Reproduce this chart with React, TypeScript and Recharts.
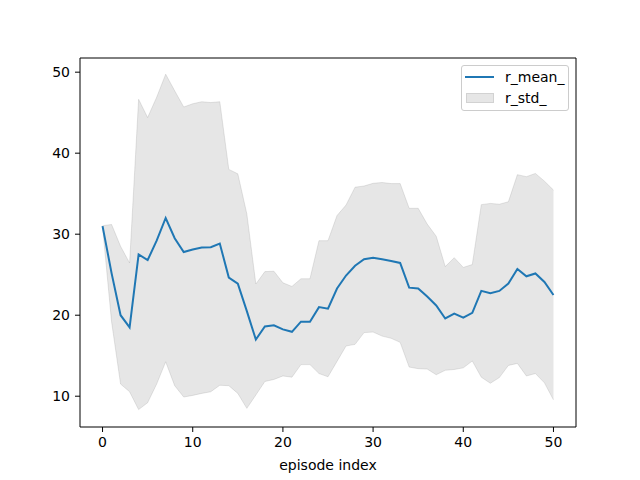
import React from "react";
import { ComposedChart, Line, Area, XAxis, YAxis, Legend, ReferenceArea, Label } from "recharts";

const episodes = [
    0, 1, 2, 3, 4, 5, 6, 7, 8, 9, 10, 11, 12, 13, 14, 15, 16, 17, 18, 19, 20, 21, 22, 23, 24, 25,
    26, 27, 28, 29, 30, 31, 32, 33, 34, 35, 36, 37, 38, 39, 40, 41, 42, 43, 44, 45, 46, 47, 48, 49, 50,
];
const rMean = [
    31.0, 25.2, 20.0, 18.5, 27.5, 26.8, 29.2, 32.0, 29.5, 27.8, 28.1, 28.35, 28.4, 28.85, 24.65, 23.9, 20.5,
    17.0, 18.6, 18.75, 18.25, 17.95, 19.2, 19.2, 21.0, 20.8, 23.3, 24.9, 26.1, 26.9, 27.1, 26.9, 26.7, 26.45,
    23.4, 23.3, 22.3, 21.2, 19.6, 20.2, 19.7, 20.3, 23.0, 22.7, 23.0, 23.9, 25.7, 24.8, 25.15, 24.1, 22.5,
];
const rStd = [
    0.05, 6.0, 8.5, 7.95, 19.15, 17.6, 17.7, 17.75, 18.2, 17.9, 18.0, 18.0, 17.85, 17.5, 13.35, 13.55, 12.0,
    6.85, 6.78, 6.68, 5.75, 5.6, 5.3, 5.3, 8.2, 8.4, 9.0, 8.7, 9.7, 9.05, 9.18, 9.48, 9.55, 9.8,
    9.8, 9.9, 8.95, 8.55, 6.4, 6.9, 6.2, 5.95, 10.65, 11.1, 10.7, 10.1, 11.65, 12.3, 12.35, 12.45, 12.95,
];
const xTicks = [0, 10, 20, 30, 40, 50];
const yTicks = [10, 20, 30, 40, 50];

const data = episodes.map((ep, i) => ({
    ep,
    mean: rMean[i],
    band: [rMean[i] - rStd[i], rMean[i] + rStd[i]],
}));

const FONT = "'DejaVu Sans', sans-serif";

const LegendBox = () => (
    <div
        style={{
            width: 106,
            height: 44,
            border: "1px solid #cccccc",
            borderRadius: 3,
            background: "rgba(255,255,255,0.8)",
            fontFamily: FONT,
            fontSize: 14,
            color: "#000",
            position: "relative",
        }}
    >
        <div style={{ position: "absolute", left: 3, top: 10, width: 29, height: 2, background: "#1f77b4" }} />
        <div style={{ position: "absolute", left: 43, top: 2, lineHeight: "18px" }}>r_mean_</div>
        <div
            style={{
                position: "absolute",
                left: 4,
                top: 27,
                width: 28,
                height: 10,
                background: "rgba(128,128,128,0.2)",
                border: "1px solid rgba(128,128,128,0.2)",
                boxSizing: "border-box",
            }}
        />
        <div style={{ position: "absolute", left: 43, top: 23, lineHeight: "18px" }}>r_std_</div>
    </div>
);

const App: React.FC = () => {
    return (
        <div style={{ position: "absolute", left: 0, top: 0, width: 640, height: 480, background: "#fff" }}>
            <ComposedChart
                width={640}
                height={480}
                data={data}
                margin={{ top: 58, right: 64, bottom: 0, left: 0 }}
            >
                <XAxis
                    dataKey="ep"
                    type="number"
                    domain={[-2.5, 52.5]}
                    ticks={xTicks}
                    allowDataOverflow
                    height={53}
                    axisLine={false}
                    tickLine={{ stroke: "#000" }}
                    tickSize={5}
                    tickMargin={5}
                    tick={{ fill: "#000", fontSize: 14, fontFamily: FONT }}
                >
                    <Label
                        value="episode index"
                        position="insideBottom"
                        offset={10}
                        style={{ fill: "#000", fontSize: 14, fontFamily: FONT }}
                    />
                </XAxis>
                <YAxis
                    type="number"
                    domain={[6.2, 51.75]}
                    ticks={yTicks}
                    allowDataOverflow
                    width={80}
                    axisLine={false}
                    tickLine={{ stroke: "#000" }}
                    tickSize={5}
                    tickMargin={5}
                    tick={{ fill: "#000", fontSize: 14, fontFamily: FONT }}
                />
                <Area
                    dataKey="band"
                    type="linear"
                    fill="#808080"
                    fillOpacity={0.2}
                    stroke="#808080"
                    strokeOpacity={0.2}
                    strokeWidth={1}
                    isAnimationActive={false}
                    activeDot={false}
                />
                <Line
                    dataKey="mean"
                    type="linear"
                    stroke="#1f77b4"
                    strokeWidth={2}
                    dot={false}
                    activeDot={false}
                    isAnimationActive={false}
                />
                <ReferenceArea
                    x1={-2.5}
                    x2={52.5}
                    y1={6.2}
                    y2={51.75}
                    fill="none"
                    fillOpacity={0}
                    stroke="#000"
                    strokeWidth={1}
                    strokeOpacity={1}
                />
                <Legend
                    layout="vertical"
                    align="center"
                    verticalAlign="middle"
                    content={() => <LegendBox />}
                    wrapperStyle={{ top: 65, left: 461, width: 108, height: 46 }}
                />
            </ComposedChart>
        </div>
    );
};

export default App;
